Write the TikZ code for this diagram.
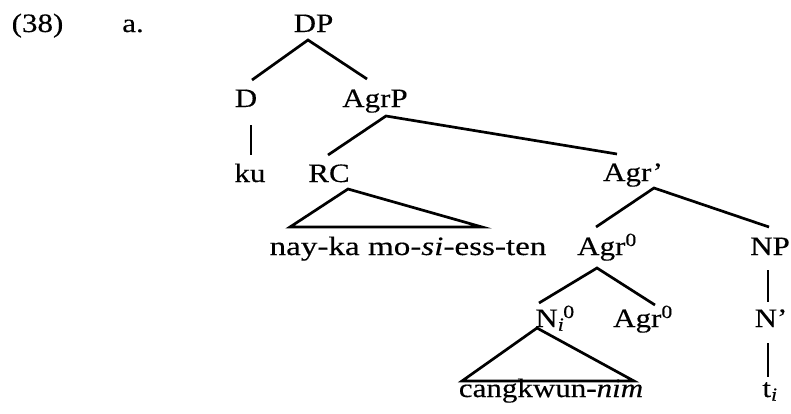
\documentclass[tikz,border=0pt]{standalone}
\usepackage{fontspec}
\setmainfont{Liberation Serif}[FakeStretch=1.17, FakeBold=0.3]
\newfontfamily\widefont{Liberation Serif}[FakeStretch=1.25, FakeBold=0.3]
\usetikzlibrary{calc}

\begin{document}
\begin{tikzpicture}[
    x=1pt, y=-1pt,
    font=\fontsize{26.5}{31}\selectfont,
    cat/.style   ={anchor=base, inner sep=0pt},
    branch/.style={line width=2.7pt, line join=miter}
]
\useasboundingbox[fill=white] (0,0) rectangle (791,413);

% Example number
\node[cat] (exnum) at (37.5,32) {(38)};
\node[cat] (exlab) at (133,32)  {a.};

% Tree labels, row by row
\node[cat] (dp)    at (313.5,32) {DP};
\node[cat] (d)     at (246,107)  {D};
\node[cat] (agrp)  at (375,107)  {AgrP};
\node[cat] (ku)    at (250,182)  {ku};
\node[cat] (rc)    at (329,182)  {RC};
\node[cat] (agrb)  at (633,181)  {Agr'};
\node[cat] (rel)   at (408,255)  {\widefont nay-ka mo-\textit{si}-ess-ten};
\node[cat] (agr0a) at (607,255)  {Agr\textsuperscript{0}};
\node[cat] (np)    at (770,255)  {NP};
\node[cat] (ni)    at (555,327)  {N\textsubscript{\textit{i}}\hspace{-1pt}\textsuperscript{0}};
\node[cat] (agr0b) at (643,327)  {Agr\textsuperscript{0}};
\node[cat] (nb)    at (771,327)  {N'};
\node[cat] (head)  at (551,397)  {cangkwun-\textit{nim}};
\node[cat] (ti)    at (770,397)  {t\textsubscript{\textit{i}}};

% --- Branches ---
\draw[branch] ($(d.base)+(6,-27)$) -- ($(dp.base)+(-5.5,8)$) -- ($(agrp.base)+(-8,-28)$);
\draw[branch] ($(d.base)+(5,18)$) -- ($(ku.base)+(1,-27)$);
\draw[branch] ($(rc.base)+(-1,-27)$) -- ($(agrp.base)+(11,9)$) -- ($(agrb.base)+(-16,-27)$);

% RC triangle
\draw[branch] ($(rc.base)+(19,7)$) -- ($(rel.base)+(-118,-28)$)
    -- ($(rel.base)+(74,-28)$) -- cycle;

\draw[branch] ($(agr0a.base)+(-11,-28)$) -- ($(agrb.base)+(21,7)$) -- ($(np.base)+(-1,-28)$);
\draw[branch] ($(ni.base)+(-16,-24)$) -- ($(agr0a.base)+(-10,13)$) -- ($(agr0b.base)+(12,-22)$);
\draw[branch] ($(np.base)+(-2,15)$) -- ($(nb.base)+(-3,-25)$);

% N triangle
\draw[branch] ($(ni.base)+(-18,1)$) -- ($(head.base)+(-89,-16)$)
    -- ($(head.base)+(83,-16)$) -- cycle;

\draw[branch] ($(nb.base)+(-3,16)$) -- ($(ti.base)+(-2,-20)$);

\end{tikzpicture}
\end{document}
